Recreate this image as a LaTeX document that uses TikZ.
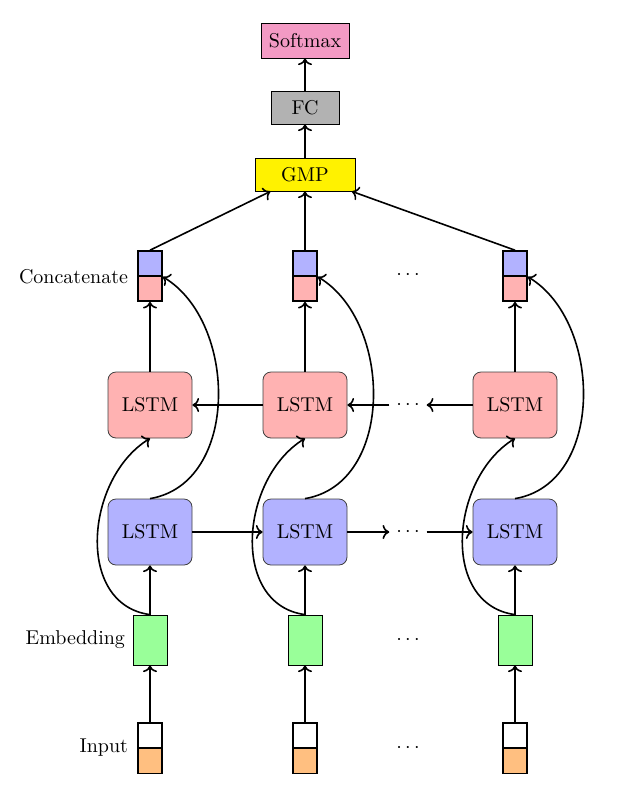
\documentclass[tikz,border=0pt]{standalone}
\usetikzlibrary{arrows.meta}
\definecolor{pinkc}{RGB}{243,154,196}
\begin{document}
\begin{tikzpicture}[x=0.5pt,y=-0.5pt,
  box/.style={draw=black, inner sep=0pt},
  cell/.style={draw=black, thick, inner sep=0pt, minimum width=12pt, minimum height=12.5pt},
  lstm/.style={draw=black!75, rounded corners=4pt, minimum width=42pt, minimum height=33pt, inner sep=0pt},
  arr/.style={->, thick},
  lbl/.style={anchor=east}]
\useasboundingbox (0,0) rectangle (630,799);

\node[box, fill=pinkc, minimum width=44pt, minimum height=17.5pt] (soft) at (305,40.5) {Softmax};
\node[box, fill=black!30, minimum width=34pt, minimum height=16.5pt] (fc) at (305,107.5) {FC};
\node[box, fill=yellow, minimum width=50pt, minimum height=16.5pt] (gmp) at (305,174.5) {GMP};

\foreach \i/\x in {1/150,2/305,3/515}{
  \node[cell, fill=blue!30] (ct\i) at (\x,263.5) {};
  \node[cell, fill=red!30] (cb\i) at (\x,288.5) {};
  \node[lstm, fill=red!30] (r\i) at (\x,405) {LSTM};
  \node[lstm, fill=blue!30] (b\i) at (\x,532) {LSTM};
  \node[box, fill=green!40, minimum width=17pt, minimum height=25pt] (e\i) at (\x,640) {};
  \node[cell, fill=white] (it\i) at (\x,735.5) {};
  \node[cell, fill=orange!50] (ib\i) at (\x,761) {};
}

\node (cd) at (408,275) {$\cdots$};
\node (rd) at (408,405) {$\cdots$};
\node (bd) at (408,532) {$\cdots$};
\node (ed) at (408,640) {$\cdots$};
\node (id) at (408,748) {$\cdots$};

\node[lbl] (lc) at (135,277) {Concatenate};
\node[lbl] (le) at (132,640) {Embedding};
\node[lbl] (li) at (135,748) {Input};

\draw[arr] (fc) -- (soft);
\draw[arr] (gmp) -- (fc);

\foreach \i in {1,2,3}{
  \draw[arr] (ct\i.north) -- (gmp);
  \draw[arr] (r\i) -- (cb\i);
  \draw[arr] (b\i.north) .. controls +(90,-15) and +(75,45) .. (ct\i.south east);
  \draw[arr] (e\i.north) .. controls +(-75,-10) and +(-65,40) .. (r\i.south);
  \draw[arr] (e\i) -- (b\i);
  \draw[arr] (it\i) -- (e\i);
}

\draw[arr] (b1) -- (b2);
\draw[arr] (b2) -- (bd);
\draw[arr] (bd) -- (b3);
\draw[arr] (r2) -- (r1);
\draw[arr] (r3) -- (rd);
\draw[arr] (rd) -- (r2);
\end{tikzpicture}
\end{document}
